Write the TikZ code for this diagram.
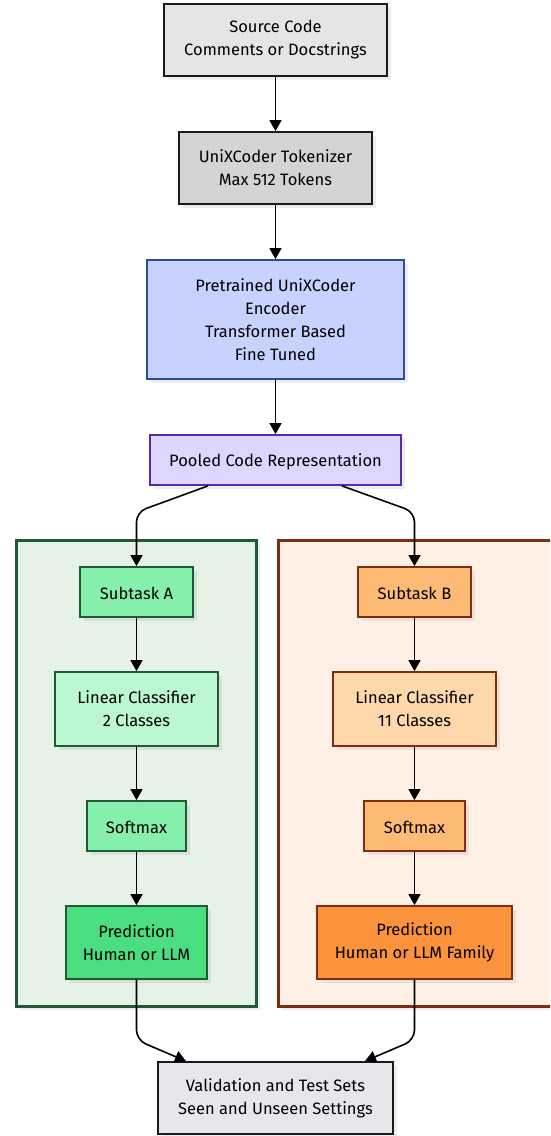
\documentclass[tikz,border=0pt]{standalone}
\usepackage{fontspec}
\setmainfont{Fira Sans}
\usetikzlibrary{arrows.meta,shadows}

\definecolor{srcfill}{HTML}{E5E5E5}
\definecolor{tokfill}{HTML}{D4D4D4}
\definecolor{darkline}{HTML}{1A1A1A}
\definecolor{encfill}{HTML}{C7D2FE}
\definecolor{encline}{HTML}{2F4A99}
\definecolor{poolfill}{HTML}{DDD6FE}
\definecolor{poolline}{HTML}{5B2AA6}
\definecolor{gclusfill}{HTML}{E6F2E8}
\definecolor{gline}{HTML}{1F5A36}
\definecolor{gmid}{HTML}{86EFAC}
\definecolor{glight}{HTML}{BBF7D0}
\definecolor{gdark}{HTML}{4ADE80}
\definecolor{oclusfill}{HTML}{FFF0E5}
\definecolor{oline}{HTML}{7C2D12}
\definecolor{omid}{HTML}{FDBA74}
\definecolor{olight}{HTML}{FED7AA}
\definecolor{odark}{HTML}{FB923C}
\definecolor{valfill}{HTML}{E5E7EB}

\tikzset{
  softshadow/.style={drop shadow={shadow xshift=4pt,shadow yshift=-4pt,fill=black,opacity=0.07}},
  box/.style={draw, line width=1.8pt, align=center, inner sep=0pt,
    font=\fontsize{16.5}{23}\selectfont, softshadow,
    execute at begin node={\rule{0pt}{16pt}}},
  cluster/.style={draw, line width=3pt, softshadow},
  arr/.style={line width=1.6pt, -{Triangle[width=12pt,length=11pt]}},
}

\begin{document}
\begin{tikzpicture}[x=1pt,y=-1pt]
\useasboundingbox (0,0) rectangle (550,1136);
\clip (0,0) rectangle (550,1136);

% subtask containers
\draw[cluster, fill=gclusfill, draw=gline] (16,540) rectangle (256,1006);
\draw[cluster, fill=oclusfill, draw=oline] (278,540) rectangle (562,1006);

% shared pipeline
\node[box, fill=srcfill, draw=darkline, minimum width=223pt, minimum height=72pt]
  (src) at (275.5,40) {Source Code\\Comments or Docstrings};
\node[box, fill=tokfill, draw=darkline, minimum width=193pt, minimum height=72pt]
  (tok) at (275.5,168) {UniXCoder Tokenizer\\Max 512 Tokens};
\node[box, fill=encfill, draw=encline, minimum width=257pt, minimum height=119pt]
  (enc) at (275.5,319.5) {Pretrained UniXCoder\\Encoder\\Transformer Based\\Fine Tuned};
\node[box, fill=poolfill, draw=poolline, minimum width=251pt, minimum height=50pt]
  (pool) at (275.5,460) {Pooled Code Representation};

% subtask A
\node[box, fill=gmid, draw=gline, minimum width=113pt, minimum height=50pt]
  (subA) at (136.5,592) {Subtask A};
\node[box, fill=glight, draw=gline, minimum width=163pt, minimum height=74pt]
  (linA) at (136.5,709) {Linear Classifier\\2 Classes};
\node[box, fill=gmid, draw=gline, minimum width=99pt, minimum height=50pt]
  (smA) at (136.5,826) {Softmax};
\node[box, fill=gdark, draw=gline, minimum width=141pt, minimum height=73pt]
  (predA) at (136.5,942.5) {Prediction\\Human or LLM};

% subtask B
\node[box, fill=omid, draw=oline, minimum width=113pt, minimum height=50pt]
  (subB) at (414.5,592) {Subtask B};
\node[box, fill=olight, draw=oline, minimum width=163pt, minimum height=74pt]
  (linB) at (414.5,709) {Linear Classifier\\11 Classes};
\node[box, fill=omid, draw=oline, minimum width=101pt, minimum height=50pt]
  (smB) at (414.5,826) {Softmax};
\node[box, fill=odark, draw=oline, minimum width=195pt, minimum height=73pt]
  (predB) at (414.5,942.5) {Prediction\\Human or LLM Family};

% evaluation
\node[box, fill=valfill, draw=darkline, minimum width=235pt, minimum height=72pt]
  (val) at (275.5,1098) {Validation and Test Sets\\Seen and Unseen Settings};

% bend points
\coordinate (bendA) at (136.5,512);
\coordinate (bendB) at (414.5,512);
\coordinate (joinA) at (136.5,1040);
\coordinate (joinB) at (414.5,1040);

% connectors
\draw[arr] (src) -- (tok);
\draw[arr] (tok) -- (enc);
\draw[arr] (enc) -- (pool);
\draw[arr, rounded corners=10pt] ([xshift=-67.5pt]pool.south) -- (bendA) -- (subA.north);
\draw[arr, rounded corners=10pt] ([xshift=66.5pt]pool.south) -- (bendB) -- (subB.north);
\draw[arr] (subA) -- (linA);
\draw[arr] (linA) -- (smA);
\draw[arr] (smA) -- (predA);
\draw[arr] (subB) -- (linB);
\draw[arr] (linB) -- (smB);
\draw[arr] (smB) -- (predB);
\draw[arr, rounded corners=10pt] (predA.south) -- (joinA) -- ([xshift=-89.5pt]val.north);
\draw[arr, rounded corners=10pt] (predB.south) -- (joinB) -- ([xshift=89.5pt]val.north);
\end{tikzpicture}
\end{document}
